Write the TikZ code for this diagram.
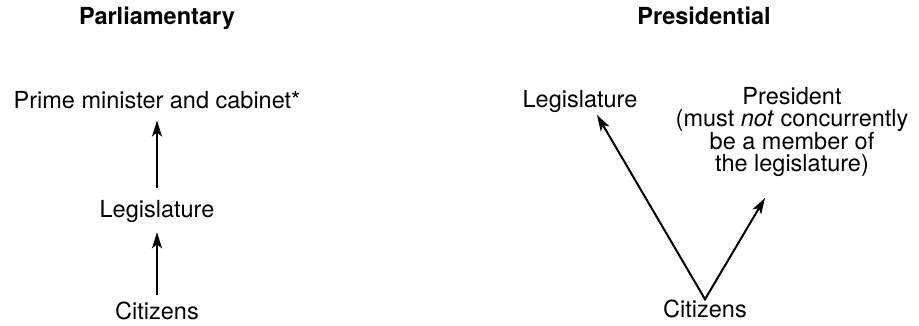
\documentclass[tikz,border=0pt]{standalone}
\usepackage{fontspec}
\setmainfont{TeX Gyre Heros}
\usetikzlibrary{arrows.meta}
\begin{document}
\begin{tikzpicture}[x=1pt,y=-1pt,
  lbl/.style={font=\fontsize{23.5}{22}\selectfont, anchor=base, inner sep=3pt},
  ttl/.style={font=\fontsize{23.5}{22}\selectfont\bfseries, anchor=base, inner sep=3pt},
  arr/.style={line width=2pt, -{Stealth[length=16pt,width=10pt,inset=4pt]}},
  varr/.style={line width=2pt, {Stealth[length=16pt,width=10pt,inset=4pt]}-{Stealth[length=16pt,width=10pt,inset=4pt]}, line join=miter}]
\useasboundingbox (0,0) rectangle (919,326);
\node[ttl] (t1) at (157,25) {Parliamentary};
\node[ttl] (t2) at (704,25) {Presidential};
\node[lbl] (pm) at (157,109) {Prime minister and cabinet*};
\node[lbl] (leg1) at (157,218) {Legislature};
\node[lbl] (cit1) at (157,319) {Citizens};
\node[lbl] (leg2) at (580,108) {Legislature};
\node[lbl, align=center] (pres) at (792,172) {President\\(must \textit{not} concurrently\\be a member of\\the legislature)};
\node[lbl] (cit2) at (705,317) {Citizens};
\coordinate (legtip) at (597,115);
\coordinate (prestip) at (765,198);
\draw[arr, shorten <=10pt, shorten >=8pt] (leg1.north) -- (pm.south);
\draw[arr, shorten <=3pt, shorten >=6pt] (cit1.north) -- (leg1.south);
\draw[varr] (legtip) -- ([yshift=-3pt]cit2.north) -- (prestip);
\end{tikzpicture}
\end{document}
